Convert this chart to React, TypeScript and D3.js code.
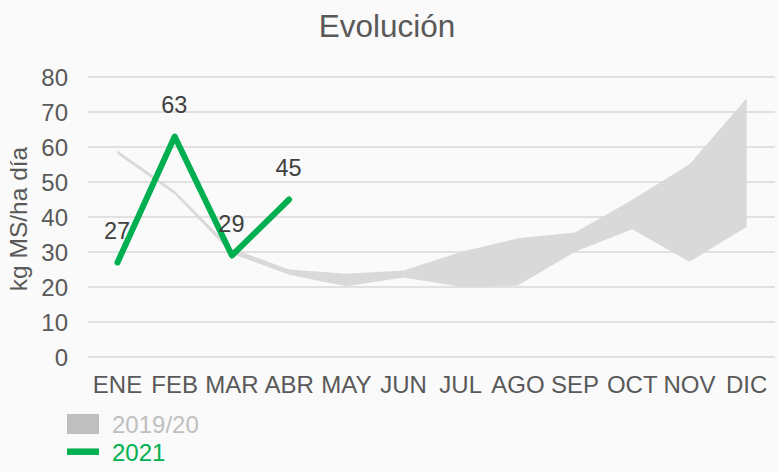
import React from "react";
import * as d3 from "d3";

const months = ["ENE", "FEB", "MAR", "ABR", "MAY", "JUN", "JUL", "AGO", "SEP", "OCT", "NOV", "DIC"];
const bandUpper = [59, 47.5, 31, 25, 23.8, 24.7, 30, 33.9, 35.6, 44.9, 55.1, 73.9];
const bandLower = [58, 46.5, 29.5, 23.5, 20.2, 22.7, 20.1, 20.4, 30.1, 36.5, 27.2, 37.2];
const series2021 = [27, 63, 29, 45];
const yTicks = [0, 10, 20, 30, 40, 50, 60, 70, 80];

const W = 778;
const H = 472;
const FONT = "'Liberation Sans', Arial, sans-serif";

export default function App() {
  const x = d3.scalePoint<string>().domain(months).range([117.5, 746.7]);
  const y = d3.scaleLinear().domain([0, 80]).range([357, 77]);

  const area = d3
    .area<number>()
    .x((_, i) => x(months[i]) as number)
    .y0((_, i) => y(bandLower[i]))
    .y1((d) => y(d));

  const line = d3
    .line<number>()
    .x((_, i) => x(months[i]) as number)
    .y((d) => y(d));

  return (
    <svg
      width={W}
      height={H}
      style={{ position: "absolute", left: 0, top: 0, background: "#fafafa" }}
      fontFamily={FONT}
    >
      <rect x={0} y={0} width={W} height={H} fill="#fafafa" />
      <text x={387} y={37} textAnchor="middle" fontSize={31.5} fill="#595959">
        Evolución
      </text>
      {yTicks.map((t) => (
        <g key={t}>
          <line x1={88} x2={775} y1={y(t)} y2={y(t)} stroke="#d9d9d9" strokeWidth={1.5} />
          <text x={68} y={y(t) + 8.8} textAnchor="end" fontSize={24} fill="#595959">
            {t}
          </text>
        </g>
      ))}
      <text
        transform={`translate(27,219) rotate(-90)`}
        textAnchor="middle"
        fontSize={24.5}
        fill="#595959"
      >
        kg MS/ha día
      </text>
      {months.map((m) => (
        <text key={m} x={x(m)} y={393} textAnchor="middle" fontSize={24} fill="#595959">
          {m}
        </text>
      ))}
      <path d={area(bandUpper) || ""} fill="#d9d9d9" />
      <path
        d={line(series2021) || ""}
        fill="none"
        stroke="#00b050"
        strokeWidth={6}
        strokeLinejoin="round"
        strokeLinecap="round"
      />
      {series2021.map((v, i) => (
        <text
          key={i}
          x={(x(months[i]) as number) - 0.5}
          y={y(v) - 23.5}
          textAnchor="middle"
          fontSize={23.5}
          fill="#404040"
        >
          {v}
        </text>
      ))}
      <rect x={67} y={414} width={32} height={20} fill="#bfbfbf" />
      <text x={112} y={433} fontSize={24} fill="#bfbfbf">
        2019/20
      </text>
      <line x1={67} x2={99} y1={451.7} y2={451.7} stroke="#00b050" strokeWidth={6.5} />
      <text x={112} y={461} fontSize={24} fill="#00b050">
        2021
      </text>
    </svg>
  );
}
